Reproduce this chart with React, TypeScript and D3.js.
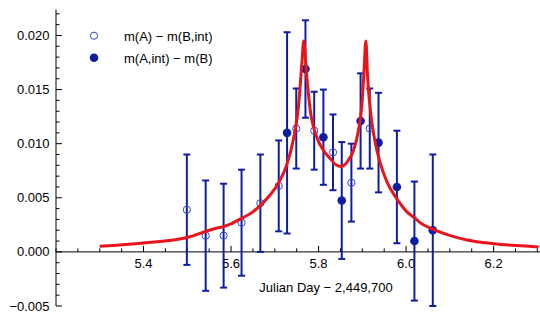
import React from 'react';
import * as d3 from 'd3';

// Julian day offsets (- 2,449,700) and magnitude differences
const openDays = [5.499, 5.542, 5.583, 5.624, 5.667, 5.709, 5.749, 5.790, 5.833, 5.875, 5.917];
const openValues = [0.0039, 0.0015, 0.0015, 0.0027, 0.0045, 0.0061, 0.0114, 0.0112, 0.0092, 0.0064, 0.0114];
const openErrors = [0.0051, 0.0051, 0.0048, 0.0049, 0.0045, 0.0042, 0.0037, 0.0036, 0.0035, 0.0036, 0.0037];

const filledDays = [5.728, 5.770, 5.811, 5.853, 5.896, 5.937, 5.979, 6.019, 6.061];
const filledValues = [0.0110, 0.0169, 0.0106, 0.00475, 0.0121, 0.0101, 0.0060, 0.0010, 0.0020];
const filledErrors = [0.0093, 0.0045, 0.0044, 0.0054, 0.0044, 0.0046, 0.0052, 0.0055, 0.0070];

// model light curve
const modelDays = [5.30, 5.40, 5.50, 5.55, 5.60, 5.624, 5.65, 5.667, 5.690, 5.709, 5.727, 5.743, 5.754, 5.762, 5.766,
  5.773, 5.781, 5.796, 5.811, 5.827, 5.842, 5.853, 5.865, 5.880, 5.891, 5.899, 5.904, 5.908,
  5.912, 5.920, 5.930, 5.941, 5.956, 5.979, 6.002, 6.021, 6.032, 6.061, 6.101, 6.139, 6.200, 6.253, 6.303];
const modelValues = [0.00052, 0.00083, 0.00133, 0.0020, 0.0026, 0.0031, 0.0037, 0.0043, 0.0053, 0.0064, 0.0080, 0.0105, 0.0134, 0.0175, 0.0195,
  0.0162, 0.0131, 0.0106, 0.0094, 0.0086, 0.0080, 0.0079, 0.0083, 0.0094, 0.0112, 0.0136, 0.0168, 0.0195,
  0.0162, 0.0125, 0.0100, 0.0082, 0.0065, 0.0049, 0.0037, 0.0031, 0.0027, 0.0021, 0.0015, 0.0011, 0.00076, 0.00058, 0.00046];

const xMajor = [5.4, 5.6, 5.8, 6.0, 6.2];
const yMajor = [-0.005, 0, 0.005, 0.01, 0.015, 0.02];

const legendLabels = ['m(A) − m(B,int)', 'm(A,int) − m(B)'];

const blue = '#0d1ea6';
const font = '"Liberation Sans", Arial, sans-serif';

export default function App() {
  const width = 540, height = 314;
  const x = d3.scaleLinear().domain([5.2, 6.306]).range([56, 540]);
  const y = d3.scaleLinear().domain([-0.005, 0.0224]).range([306, 9.5]);

  const xMinor = d3.range(5.2, 6.31, 0.05).filter(v => !xMajor.some(m => Math.abs(m - v) < 1e-6));
  const yMinor = d3.range(-0.005, 0.0224, 0.001).filter(v => !yMajor.some(m => Math.abs(m - v) < 1e-6));

  const line = d3.line<number>()
    .x((_, i) => x(modelDays[i]))
    .y(d => y(d))
    .curve(d3.curveMonotoneX);

  const fmtY = (v: number) => {
    const s = d3.format('.3f')(Math.abs(v));
    return v < 0 ? '−' + s : s;
  };

  const bars = (days: number[], vals: number[], errs: number[]) =>
    days.map((d, i) => {
      const cx = x(d), top = y(vals[i] + errs[i]), bot = y(vals[i] - errs[i]);
      return (
        <g key={'b' + d} stroke={blue} strokeWidth={2}>
          <line x1={cx} x2={cx} y1={top} y2={bot} />
          <line x1={cx - 3.5} x2={cx + 3.5} y1={top} y2={top} />
          <line x1={cx - 3.5} x2={cx + 3.5} y1={bot} y2={bot} />
        </g>
      );
    });

  return (
    <svg width={width} height={height} style={{ position: 'absolute', left: 0, top: 0 }}
      fontFamily={font} fontSize={13}>
      <rect width={width} height={height} fill="white" />

      {/* axes */}
      <g stroke="#000" strokeWidth={1}>
        <line x1={56} x2={540} y1={y(0)} y2={y(0)} />
        <line x1={56} x2={56} y1={y(0.0224)} y2={y(-0.005)} />
        {xMajor.map(v => <line key={'xM' + v} x1={x(v)} x2={x(v)} y1={y(0)} y2={y(0) - 6} />)}
        {xMinor.map(v => <line key={'xm' + v} x1={x(v)} x2={x(v)} y1={y(0)} y2={y(0) - 3.5} />)}
        {yMajor.map(v => <line key={'yM' + v} x1={56} x2={62} y1={y(v)} y2={y(v)} />)}
        {yMinor.map(v => <line key={'ym' + v} x1={56} x2={59.5} y1={y(v)} y2={y(v)} />)}
      </g>
      {xMajor.map(v => (
        <text key={'xl' + v} x={x(v)} y={y(0) + 16} textAnchor="middle">{v.toFixed(1)}</text>
      ))}
      {yMajor.map(v => (
        <text key={'yl' + v} x={49.5} y={y(v) + 4.5} textAnchor="end">{fmtY(v)}</text>
      ))}
      <text x={326} y={292} textAnchor="middle">Julian Day − 2,449,700</text>

      {/* data */}
      {bars(openDays, openValues, openErrors)}
      {bars(filledDays, filledValues, filledErrors)}
      {openDays.map((d, i) => (
        <circle key={'o' + d} cx={x(d)} cy={y(openValues[i])} r={3.6} fill="none" stroke="#3344cc" strokeWidth={1} />
      ))}
      {filledDays.map((d, i) => (
        <circle key={'f' + d} cx={x(d)} cy={y(filledValues[i])} r={4.3} fill={blue} />
      ))}

      <path d={line(modelValues) || ''} fill="none" stroke="#e8141a" strokeWidth={3} strokeLinejoin="round" />

      {/* legend */}
      <circle cx={94} cy={35.7} r={3.6} fill="none" stroke="#3344cc" strokeWidth={1} />
      <circle cx={94} cy={57.7} r={4.3} fill={blue} />
      <text x={124} y={40.5}>{legendLabels[0]}</text>
      <text x={124} y={62.5}>{legendLabels[1]}</text>
    </svg>
  );
}
